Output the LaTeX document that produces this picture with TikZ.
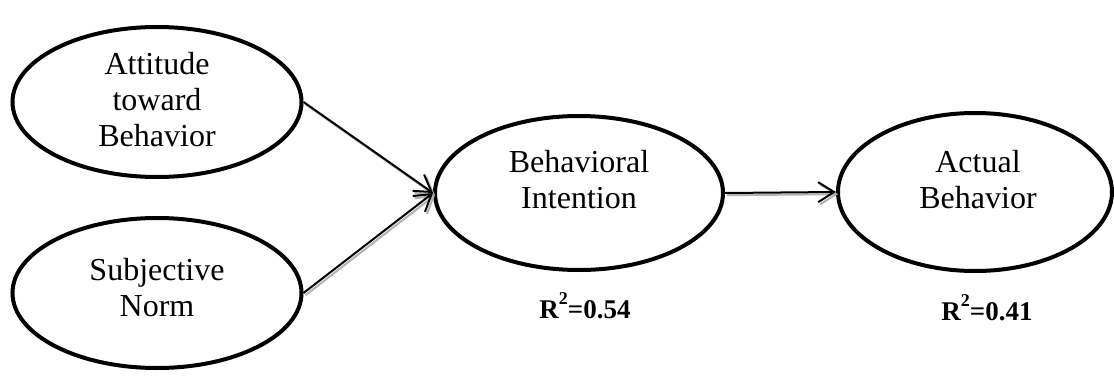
\documentclass[tikz,border=0pt]{standalone}
\usepackage{fontspec}
\setmainfont{Liberation Serif}
\usetikzlibrary{arrows.meta, shapes.geometric}

\begin{document}
\begin{tikzpicture}[x=0.5pt, y=-0.5pt,
    >={Straight Barb[length=8pt, width=10pt]},
    construct/.style={ellipse, draw, line width=2pt, inner sep=0pt},
    conlabel/.style={align=center, font=\fontsize{16}{18}\selectfont},
    rsq/.style={font=\fontsize{13.5}{16}\selectfont\bfseries},
    link/.style={->, line width=1pt},
    link shadow/.style={->, line width=1pt, gray!60}]
  \useasboundingbox (0,0) rectangle (1114,375);

  % Konstrukty
  \node[construct, minimum width=144.5pt, minimum height=75pt] (att) at (157,102) {};
  \node[construct, minimum width=144.5pt, minimum height=75pt] (sn) at (157,293) {};
  \node[construct, minimum width=144pt, minimum height=77pt] (bi) at (579,193) {};
  \node[construct, minimum width=137pt, minimum height=79pt] (ab) at (975,192) {};

  \node[conlabel] (att-txt) at (157,100) {Attitude\\toward\\Behavior};
  \node[conlabel] (sn-txt) at (157,288) {Subjective\\Norm};
  \node[conlabel] (bi-txt) at (579,180) {Behavioral\\Intention};
  \node[conlabel] (ab-txt) at (978,180) {Actual\\Behavior};

  % Cesty (se stinem)
  \foreach \a/\b in {att/bi, sn/bi, bi/ab} {
    \draw[link shadow, transform canvas={shift={(1pt,-1.1pt)}}] (\a.east) -- (\b.west);
    \draw[link] (\a.east) -- (\b.west);
  }

  % R^2
  \node[rsq] (bi-rsq) at (585,306) {R\raisebox{1.1ex}{\fontsize{9}{9}\selectfont 2}=0.54};
  \node[rsq] (ab-rsq) at (987,308) {R\raisebox{1.1ex}{\fontsize{9}{9}\selectfont 2}=0.41};
\end{tikzpicture}
\end{document}
